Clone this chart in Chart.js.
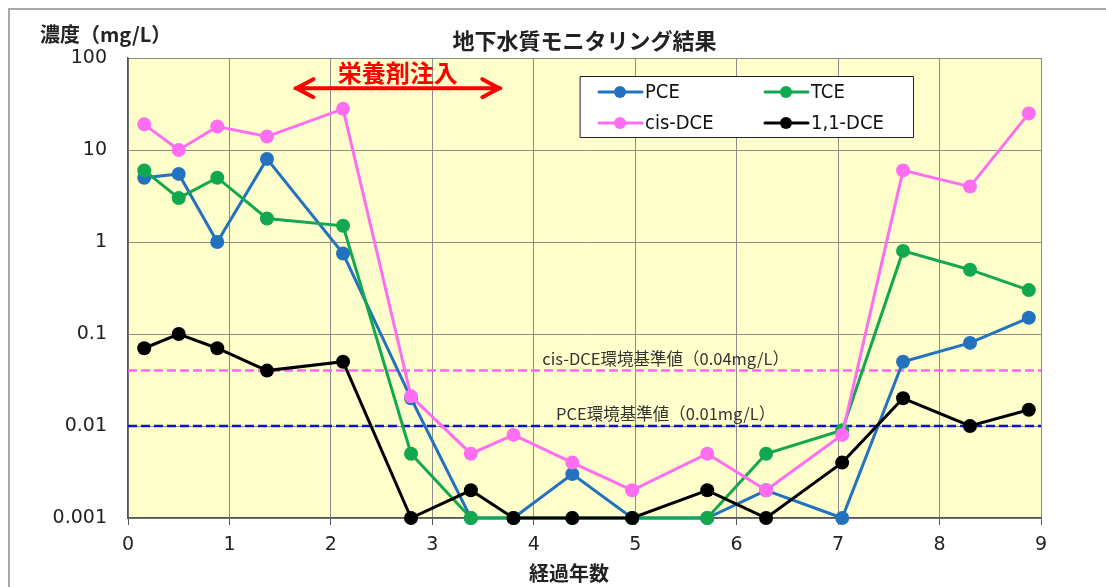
<!DOCTYPE html>
<html>
<head>
<meta charset="utf-8">
<script src="https://cdn.jsdelivr.net/npm/chart.js@4.4.1/dist/chart.umd.min.js"></script>
<style>
  html, body { margin: 0; padding: 0; background: #fff; }
  #wrap { width: 1106px; height: 587px; }
</style>
</head>
<body>
<div id="wrap"><canvas id="c" width="1106" height="587"></canvas></div>
<script>
// 経過年数（測定時期）
const years = [0.16, 0.5, 0.88, 1.37, 2.12, 2.79, 3.38, 3.8, 4.38, 4.97, 5.71, 6.29, 7.04, 7.64, 8.3, 8.88];

// 濃度 mg/L
const pce    = [5.0, 5.5, 1.0, 8.0, 0.75, 0.02, 0.001, 0.001, 0.003, 0.001, 0.001, 0.002, 0.001, 0.05, 0.08, 0.15];
const tce    = [6.0, 3.0, 5.0, 1.8, 1.5, 0.005, 0.001, 0.001, 0.001, 0.001, 0.001, 0.005, 0.009, 0.8, 0.5, 0.3];
const cisDce = [19, 10, 18, 14, 28, 0.021, 0.005, 0.008, 0.004, 0.002, 0.005, 0.002, 0.008, 6.0, 4.0, 25];
const dce11  = [0.07, 0.1, 0.07, 0.04, 0.05, 0.001, 0.002, 0.001, 0.001, 0.001, 0.002, 0.001, 0.004, 0.02, 0.01, 0.015];

const seriesNames = ["PCE", "TCE", "cis-DCE", "1,1-DCE"];
const seriesColors = ["#2272c0", "#12a84f", "#ff6ef0", "#000000"];

const yTicks = [0.001, 0.01, 0.1, 1, 10, 100];
const yTickLabels = ["0.001", "0.01", "0.1", "1", "10", "100"];
const xTicks = [0, 1, 2, 3, 4, 5, 6, 7, 8, 9];

// 環境基準値
const limitValues = [0.04, 0.01];
const limitLabels = ["cis-DCE環境基準値（0.04mg/L）", "PCE環境基準値（0.01mg/L）"];
const limitColors = ["#ff66ee", "#0a14d0"];

// 栄養剤注入期間（年）
const injectStart = 1.65;
const injectEnd = 3.67;
const injectLevel = 47;

const jp = '"Noto Sans CJK JP", sans-serif';
const num = '"DejaVu Sans", sans-serif';

function pts(vals) {
    return vals.map((v, i) => ({ x: years[i], y: v }));
}

const decor = {
    id: "decor",
    beforeDraw(chart) {
        const { ctx, chartArea: a } = chart;
        ctx.save();
        ctx.fillStyle = "#fff";
        ctx.fillRect(0, 0, chart.width, chart.height);
        ctx.strokeStyle = "#a8a8a8";
        ctx.lineWidth = 2;
        ctx.strokeRect(9, 9, 1200, 700);
        ctx.fillStyle = "#ffffcc";
        ctx.fillRect(a.left, a.top, a.right - a.left, a.bottom - a.top);
        ctx.restore();
    },
    beforeDatasetsDraw(chart) {
        const { ctx, chartArea: a, scales } = chart;
        ctx.save();
        limitValues.forEach((v, i) => {
            const y = scales.y.getPixelForValue(v);
            ctx.strokeStyle = limitColors[i];
            ctx.lineWidth = 2.5;
            ctx.setLineDash([9, 4]);
            ctx.beginPath();
            ctx.moveTo(a.left, y);
            ctx.lineTo(a.right, y);
            ctx.stroke();
            ctx.setLineDash([]);
            ctx.fillStyle = "#333";
            ctx.font = "16.5px " + jp;
            ctx.textAlign = "center";
            ctx.textBaseline = "middle";
            ctx.fillText(limitLabels[i], scales.x.getPixelForValue(5.3), y - 12);
        });
        ctx.restore();
    },
    afterDraw(chart) {
        const { ctx, chartArea: a, scales } = chart;
        ctx.save();
        ctx.fillStyle = "#222";
        ctx.textBaseline = "middle";

        // タイトル類
        ctx.font = "bold 22px " + jp;
        ctx.textAlign = "center";
        ctx.fillText("地下水質モニタリング結果", (a.left + a.right) / 2, 41);
        ctx.font = "bold 20px " + jp;
        ctx.fillText("経過年数", 569, 573);
        ctx.textAlign = "left";
        ctx.fillText("濃度（mg/L）", 40, 34);

        // 栄養剤注入の矢印
        const x1 = scales.x.getPixelForValue(injectStart);
        const x2 = scales.x.getPixelForValue(injectEnd);
        const ya = scales.y.getPixelForValue(injectLevel);
        ctx.strokeStyle = "#ff0000";
        ctx.lineWidth = 4;
        ctx.lineCap = "round";
        ctx.lineJoin = "round";
        ctx.beginPath();
        ctx.moveTo(x1, ya); ctx.lineTo(x2, ya);
        ctx.moveTo(x1 + 18, ya - 9); ctx.lineTo(x1 + 1, ya); ctx.lineTo(x1 + 18, ya + 9);
        ctx.moveTo(x2 - 18, ya - 9); ctx.lineTo(x2 - 1, ya); ctx.lineTo(x2 - 18, ya + 9);
        ctx.stroke();
        ctx.fillStyle = "#ff0000";
        ctx.font = "bold 24px " + jp;
        ctx.textAlign = "center";
        ctx.fillText("栄養剤注入", (x1 + x2) / 2, ya - 15);

        // 凡例
        ctx.fillStyle = "#fff";
        ctx.fillRect(580, 76, 333, 61);
        ctx.strokeStyle = "#222";
        ctx.lineWidth = 1;
        ctx.strokeRect(580.5, 76.5, 333, 61);
        const colX = [599, 765];
        const rowY = [92, 123];
        seriesNames.forEach((name, i) => {
            const lx = colX[i % 2];
            const ly = rowY[Math.floor(i / 2)];
            ctx.strokeStyle = seriesColors[i];
            ctx.lineWidth = 3;
            ctx.beginPath();
            ctx.moveTo(lx, ly); ctx.lineTo(lx + 43, ly);
            ctx.stroke();
            ctx.fillStyle = seriesColors[i];
            ctx.beginPath();
            ctx.arc(lx + 21, ly, 6, 0, Math.PI * 2);
            ctx.fill();
            ctx.fillStyle = "#111";
            ctx.font = '20px "DejaVu Sans Condensed", "Liberation Sans", sans-serif';
            ctx.textAlign = "left";
            ctx.fillText(name, lx + 46, ly + 1);
        });
        ctx.restore();
    }
};

const datasets = [pce, tce, cisDce, dce11].map((vals, i) => ({
    label: seriesNames[i],
    data: pts(vals),
    borderColor: seriesColors[i],
    backgroundColor: seriesColors[i],
    borderWidth: 3,
    pointRadius: 7,
    pointHoverRadius: 7,
    pointBorderWidth: 0,
    tension: 0,
    clip: false,
    order: [3, 2, 0, 1][i]
}));

new Chart(document.getElementById("c"), {
    type: "line",
    data: { datasets: datasets },
    options: {
        responsive: false,
        devicePixelRatio: 1,
        animation: false,
        events: [],
        layout: { padding: { top: 58, right: 65, left: 0, bottom: 0 } },
        plugins: {
            legend: { display: false },
            title: { display: false },
            tooltip: { enabled: false }
        },
        scales: {
            x: {
                type: "linear",
                min: 0,
                max: 9,
                afterBuildTicks: s => { s.ticks = xTicks.map(v => ({ value: v })); },
                afterFit: s => { s.height = 69; },
                ticks: {
                    font: { family: num, size: 19 },
                    color: "#222",
                    padding: 9,
                    maxRotation: 0,
                    callback: v => String(v)
                },
                grid: { color: "#8c8c8c", lineWidth: 1, tickLength: 7, tickColor: "#555" },
                border: { color: "#555", width: 1.5 }
            },
            y: {
                type: "logarithmic",
                min: 0.001,
                max: 100,
                afterBuildTicks: s => { s.ticks = yTicks.map(v => ({ value: v })); },
                afterFit: s => { s.width = 128; },
                ticks: {
                    font: { family: num, size: 19 },
                    color: "#222",
                    padding: 21,
                    autoSkip: false,
                    callback: (v, i) => yTickLabels[i]
                },
                grid: { color: "#8c8c8c", lineWidth: 1, drawTicks: false },
                border: { color: "#555", width: 1.5 }
            }
        }
    },
    plugins: [decor]
});
</script>
</body>
</html>
